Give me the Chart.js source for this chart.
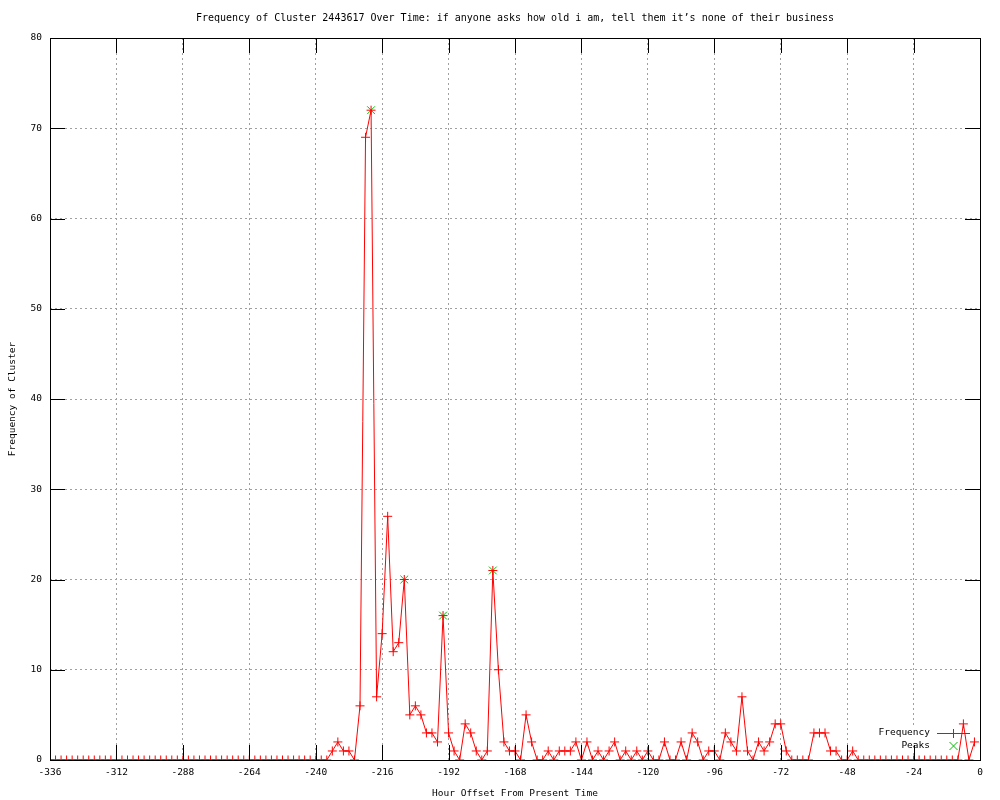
<!DOCTYPE html>
<html>
<head>
<meta charset="utf-8">
<script src="https://cdn.jsdelivr.net/npm/chart.js@4.4.0/dist/chart.umd.min.js"></script>
<style>
  html, body { margin: 0; padding: 0; background: #fff; }
  #wrap { width: 1000px; height: 800px; }
</style>
</head>
<body>
<div id="wrap"><canvas id="myChart" width="1000" height="800"></canvas></div>
<script>
// hours before now, one sample every 2 hours
const hours = [
  -336, -334, -332, -330, -328, -326, -324, -322, -320, -318, -316, -314,
  -312, -310, -308, -306, -304, -302, -300, -298, -296, -294, -292, -290,
  -288, -286, -284, -282, -280, -278, -276, -274, -272, -270, -268, -266,
  -264, -262, -260, -258, -256, -254, -252, -250, -248, -246, -244, -242,
  -240, -238, -236, -234, -232, -230, -228, -226, -224, -222, -220, -218,
  -216, -214, -212, -210, -208, -206, -204, -202, -200, -198, -196, -194,
  -192, -190, -188, -186, -184, -182, -180, -178, -176, -174, -172, -170,
  -168, -166, -164, -162, -160, -158, -156, -154, -152, -150, -148, -146,
  -144, -142, -140, -138, -136, -134, -132, -130, -128, -126, -124, -122,
  -120, -118, -116, -114, -112, -110, -108, -106, -104, -102, -100, -98,
  -96, -94, -92, -90, -88, -86, -84, -82, -80, -78, -76, -74,
  -72, -70, -68, -66, -64, -62, -60, -58, -56, -54, -52, -50,
  -48, -46, -44, -42, -40, -38, -36, -34, -32, -30, -28, -26,
  -24, -22, -20, -18, -16, -14, -12, -10, -8, -6, -4, -2
];
const frequency = [
  0, 0, 0, 0, 0, 0, 0, 0, 0, 0, 0, 0,
  0, 0, 0, 0, 0, 0, 0, 0, 0, 0, 0, 0,
  0, 0, 0, 0, 0, 0, 0, 0, 0, 0, 0, 0,
  0, 0, 0, 0, 0, 0, 0, 0, 0, 0, 0, 0,
  0, 0, 0, 1, 2, 1, 1, 0, 6, 69, 72, 7,
  14, 27, 12, 13, 20, 5, 6, 5, 3, 3, 2, 16,
  3, 1, 0, 4, 3, 1, 0, 1, 21, 10, 2, 1,
  1, 0, 5, 2, 0, 0, 1, 0, 1, 1, 1, 2,
  0, 2, 0, 1, 0, 1, 2, 0, 1, 0, 1, 0,
  1, 0, 0, 2, 0, 0, 2, 0, 3, 2, 0, 1,
  1, 0, 3, 2, 1, 7, 1, 0, 2, 1, 2, 4,
  4, 1, 0, 0, 0, 0, 3, 3, 3, 1, 1, 0,
  0, 1, 0, 0, 0, 0, 0, 0, 0, 0, 0, 0,
  0, 0, 0, 0, 0, 0, 0, 0, 0, 4, 0, 2
];
const peakHours = [-220, -208, -194, -176];
const peakValues = [72, 20, 16, 21];

const xTicks = [-336, -312, -288, -264, -240, -216, -192, -168, -144, -120, -96, -72, -48, -24, 0];
const yTicks = [0, 10, 20, 30, 40, 50, 60, 70, 80];

const titleText = 'Frequency of Cluster 2443617 Over Time: if anyone asks how old i am, tell them it\u2019s none of their business';
const mono = 'DejaVu Sans Mono';
const fontSize = 9.5;

// gnuplot style frame: box, inward ticks, title, key
const gnuplotFrame = {
    id: 'gnuplotFrame',
    beforeDatasetsDraw(chart) {
        const c = chart.ctx;
        // key area is blanked like gnuplot does
        c.save();
        c.fillStyle = '#fff';
        c.fillRect(868, 726, 66, 26);
        c.restore();
    },
    afterDraw(chart) {
        const c = chart.ctx;
        const a = chart.chartArea;
        const xs = chart.scales.x, ys = chart.scales.y;
        c.save();
        c.strokeStyle = '#000';
        c.lineWidth = 1;
        c.beginPath();
        for (const t of xTicks) {
            const px = Math.round(xs.getPixelForValue(t)) + 0.5;
            c.moveTo(px, a.bottom); c.lineTo(px, a.bottom - 15);
            c.moveTo(px, a.top); c.lineTo(px, a.top + 15);
        }
        for (const t of yTicks) {
            const py = Math.round(ys.getPixelForValue(t)) + 0.5;
            c.moveTo(a.left, py); c.lineTo(a.left + 15, py);
            c.moveTo(a.right, py); c.lineTo(a.right - 15, py);
        }
        c.stroke();
        c.strokeRect(Math.round(a.left) + 0.5, Math.round(a.top) + 0.5,
            Math.round(a.right - a.left), Math.round(a.bottom - a.top));

        c.fillStyle = '#000';
        c.font = '10px "' + mono + '"';
        c.textAlign = 'center';
        c.textBaseline = 'middle';
        c.fillText(titleText, (a.left + a.right) / 2, 18);

        // key
        c.font = fontSize + 'px "' + mono + '"';
        c.textAlign = 'right';
        c.fillText('Frequency', 930, 733);
        c.fillText('Peaks', 930, 746);
        c.strokeStyle = 'rgb(255, 0, 0)';
        c.beginPath();
        c.moveTo(937, 733.5); c.lineTo(970, 733.5);
        c.moveTo(953.5, 729); c.lineTo(953.5, 738);
        c.stroke();
        c.strokeStyle = 'rgb(0, 192, 0)';
        c.beginPath();
        c.moveTo(949.5, 742); c.lineTo(957.5, 750);
        c.moveTo(957.5, 742); c.lineTo(949.5, 750);
        c.stroke();
        c.restore();
    }
};

const ctx = document.getElementById('myChart');
new Chart(ctx, {
    type: 'line',
    data: {
        datasets: [{
            label: 'Frequency',
            data: hours.map((h, i) => ({x: h, y: frequency[i]})),
            borderColor: '#ff0000',
            backgroundColor: '#ff0000',
            borderWidth: 1,
            pointStyle: 'cross',
            pointRadius: 4.5,
            pointBorderWidth: 1,
            pointBorderColor: '#ff0000',
            pointHoverRadius: 4.5,
            tension: 0,
            fill: false
        }, {
            label: 'Peaks',
            data: peakHours.map((h, i) => ({x: h, y: peakValues[i]})),
            showLine: false,
            borderColor: '#00c000',
            backgroundColor: '#00c000',
            pointStyle: 'crossRot',
            pointRadius: 5.5,
            pointBorderWidth: 1
        }]
    },
    options: {
        responsive: false,
        animation: false,
        events: [],
        devicePixelRatio: 1,
        layout: { padding: { left: 0, right: 20, top: 38, bottom: 0 } },
        plugins: {
            legend: { display: false },
            title: { display: false },
            tooltip: { enabled: false }
        },
        scales: {
            x: {
                type: 'linear',
                min: -336,
                max: 0,
                afterFit: (s) => { s.height = 40; s.paddingLeft = 0; s.paddingRight = 0; },
                afterBuildTicks: (s) => { s.ticks = xTicks.map(v => ({value: v})); },
                ticks: {
                    color: '#000',
                    padding: 7,
                    maxRotation: 0,
                    autoSkip: false,
                    font: { family: mono, size: fontSize }
                },
                grid: { color: '#a0a0a0', lineWidth: 1, drawTicks: false },
                border: { display: false, dash: [2, 3] },
                title: {
                    display: true,
                    text: 'Hour Offset From Present Time',
                    color: '#000',
                    font: { family: mono, size: fontSize },
                    padding: { top: 0, bottom: 1 }
                }
            },
            y: {
                min: 0,
                max: 80,
                afterFit: (s) => { s.width = 50; s.paddingTop = 0; s.paddingBottom = 0; },
                afterBuildTicks: (s) => { s.ticks = yTicks.map(v => ({value: v})); },
                ticks: {
                    color: '#000',
                    padding: 8,
                    font: { family: mono, size: fontSize }
                },
                grid: { color: '#a0a0a0', lineWidth: 1, drawTicks: false },
                border: { display: false, dash: [2, 3] },
                title: {
                    display: true,
                    text: 'Frequency of Cluster',
                    color: '#000',
                    font: { family: mono, size: fontSize },
                    padding: { top: 7, bottom: 0 }
                }
            }
        }
    },
    plugins: [gnuplotFrame]
});
</script>
</body>
</html>
